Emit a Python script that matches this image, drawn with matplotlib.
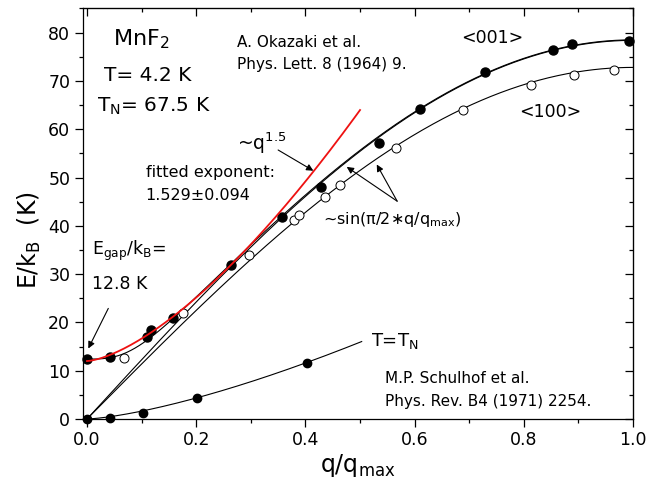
import numpy as np
import matplotlib
matplotlib.use("Agg")
import matplotlib.pyplot as plt
from matplotlib.ticker import MultipleLocator

plt.rcParams['font.family'] = ['DejaVu Sans']
plt.rcParams['mathtext.default'] = 'regular'

# ---- data ----
q001 = [0.0, 0.042, 0.109, 0.117, 0.158, 0.264, 0.358, 0.428, 0.535, 0.610, 0.728, 0.853, 0.888, 0.992]
E001 = [12.4, 12.8, 16.9, 18.4, 20.9, 31.8, 41.9, 48.0, 57.1, 64.2, 71.9, 76.5, 77.7, 78.3]
q100 = [0.068, 0.175, 0.297, 0.379, 0.388, 0.435, 0.463, 0.565, 0.689, 0.813, 0.891, 0.965]
E100 = [12.7, 21.9, 33.9, 41.2, 42.2, 45.9, 48.4, 56.2, 64.0, 69.1, 71.2, 72.3]
qTN = [0.0, 0.042, 0.102, 0.202, 0.403]
ETN = [0.0, 0.27, 1.3, 4.35, 11.6]

# fit-curve parameters
A001 = 78.4      # amplitude of sin fit, <001>
A100 = 72.8      # amplitude of sin fit, <100>
EGAP = 12.4      # gap for the gapped <001> curve
RED_E0, RED_B, RED_P, RED_QMAX = 12.0, 147.0, 1.5, 0.5   # ~q^1.5 fit
TN_C, TN_P, TN_QMAX = 42.4, 1.415, 0.503                  # T=T_N guide

fig = plt.figure(figsize=(6.46, 4.88), dpi=100)
ax = fig.add_axes([0.128, 0.1414, 0.852, 0.8422])

q = np.linspace(0, 1, 400)
s001 = A001 * np.sin(np.pi / 2 * q)
s100 = A100 * np.sin(np.pi / 2 * q)
gapped = (EGAP**3 + s001**3) ** (1 / 3)
ax.plot(q, s001, color='k', lw=0.8, zorder=2)
ax.plot(q, s100, color='k', lw=0.8, zorder=2)
ax.plot(q, gapped, color='k', lw=0.8, zorder=2)

qt = np.linspace(0, TN_QMAX, 200)
ax.plot(qt, TN_C * qt**TN_P, color='k', lw=0.8, zorder=2)

qr = np.linspace(0, RED_QMAX, 200)
ax.plot(qr, RED_E0 + RED_B * qr**RED_P, color='#ee1111', lw=1.3, zorder=5)

ax.plot(q001, E001, 'o', color='k', ms=6.5, zorder=4, clip_on=False)
ax.plot(q100, E100, 'o', mfc='white', mec='k', mew=0.7, ms=6.5, zorder=4, clip_on=False)
ax.plot(qTN, ETN, 'o', color='k', ms=6.0, zorder=4, clip_on=False)

ax.set_xlim(-0.0079, 1.0)
ax.set_ylim(0, 85.1)
ax.xaxis.set_major_locator(MultipleLocator(0.2))
ax.xaxis.set_minor_locator(MultipleLocator(0.1))
ax.yaxis.set_major_locator(MultipleLocator(10))
ax.yaxis.set_minor_locator(MultipleLocator(5))
ax.set_xticks([0, 0.2, 0.4, 0.6, 0.8, 1.0])
ax.set_xticklabels(['0.0', '0.2', '0.4', '0.6', '0.8', '1.0'])
ax.tick_params(which='both', direction='out', width=0.9, labelsize=12.5, top=False, right=False)
ax.tick_params(which='major', length=5.5)
ax.tick_params(which='minor', length=3)
for sp in ax.spines.values():
    sp.set_linewidth(0.9)

secx = ax.secondary_xaxis('top')
secx.xaxis.set_major_locator(MultipleLocator(0.2))
secx.xaxis.set_minor_locator(MultipleLocator(0.1))
secx.tick_params(which='both', direction='in', width=0.9, labeltop=False)
secx.tick_params(which='major', length=5.5)
secx.tick_params(which='minor', length=3)
secy = ax.secondary_yaxis('right')
secy.yaxis.set_major_locator(MultipleLocator(10))
secy.yaxis.set_minor_locator(MultipleLocator(5))
secy.tick_params(which='both', direction='in', width=0.9, labelright=False)
secy.tick_params(which='major', length=5.5)
secy.tick_params(which='minor', length=3)

ax.set_xlabel('q/q$_{max}$', fontsize=17, labelpad=2)
ax.set_ylabel('E/k$_B$  (K)', fontsize=17)
ax.yaxis.set_label_coords(-0.073, 0.435)

# ---- annotations ----
ax.text(0.048, 77.3, 'MnF$_2$', fontsize=16)
ax.text(0.031, 70.0, 'T= 4.2 K', fontsize=14.5)
ax.text(0.018, 63.6, 'T$_N$= 67.5 K', fontsize=14.5)
ax.text(0.275, 77.1, 'A. Okazaki et al.', fontsize=11)
ax.text(0.275, 72.4, 'Phys. Lett. 8 (1964) 9.', fontsize=11)
ax.text(0.686, 77.8, '<001>', fontsize=12.5)
ax.text(0.792, 62.6, '<100>', fontsize=12.5)
ax.text(0.274, 55.7, '~q$^{1.5}$', fontsize=13.5)
ax.text(0.1075, 50.2, 'fitted exponent:', fontsize=11.5)
ax.text(0.1075, 45.3, '1.529±0.094', fontsize=11.5)
ax.text(0.432, 40.4, '~sin(π/2∗q/q$_{max}$)', fontsize=11.5)
ax.text(0.0086, 34.0, 'E$_{gap}$/k$_B$=', fontsize=12.5)
ax.text(0.0086, 26.9, '12.8 K', fontsize=12.5)
ax.text(0.52, 15.1, 'T=T$_N$', fontsize=13)
ax.text(0.546, 7.5, 'M.P. Schulhof et al.', fontsize=11)
ax.text(0.546, 2.7, 'Phys. Rev. B4 (1971) 2254.', fontsize=11)

arrow = dict(arrowstyle='-|>', lw=0.8, color='k', mutation_scale=10, shrinkA=0, shrinkB=0)
ax.annotate('', xy=(0.4145, 51.4), xytext=(0.350, 55.7), arrowprops=arrow)
ax.annotate('', xy=(0.4756, 52.2), xytext=(0.568, 45.1), arrowprops=arrow)
ax.annotate('', xy=(0.5306, 52.7), xytext=(0.568, 45.1), arrowprops=arrow)
ax.annotate('', xy=(0.0024, 14.6), xytext=(0.039, 22.9), arrowprops=arrow)

fig.savefig('out.png', dpi=100)
